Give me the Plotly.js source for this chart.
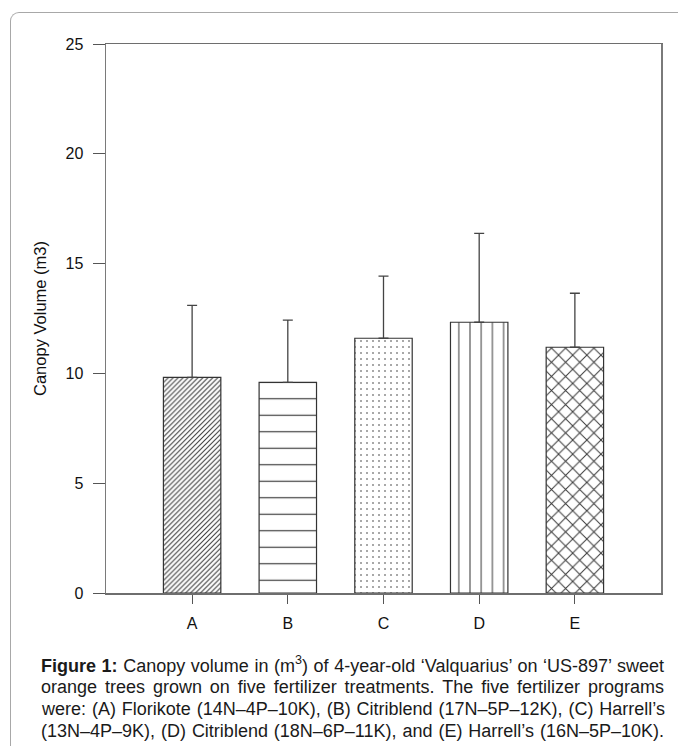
<!DOCTYPE html>
<html>
<head>
<meta charset="utf-8">
<script src="https://cdn.plot.ly/plotly-3.0.1.min.js"></script>
<style>
  html, body { margin: 0; padding: 0; background: #ffffff; overflow: hidden; }
  #chart { position: absolute; left: 0; top: 0; width: 678px; height: 746px; }
  #frame { position: absolute; left: 10px; top: 12px; width: 720px; height: 780px;
           border-top: 1.5px solid #a8a8a8; border-left: 1.5px solid #a8a8a8;
           border-top-left-radius: 9px; pointer-events: none; box-sizing: border-box; }
</style>
</head>
<body>
<div id="chart"></div>
<div id="frame"></div>
<script>
// ---- data ----
var categories = ['A', 'B', 'C', 'D', 'E'];
var canopyVolume = [9.82, 9.59, 11.60, 12.33, 11.19];
var errorUpper = [3.28, 2.84, 2.83, 4.05, 2.46];
var yTickValues = [0, 5, 10, 15, 20, 25];
var yAxisTitle = 'Canopy Volume (m3)';
var captionLines = [
  '<b>Figure 1:</b> Canopy volume in (m<sup>3</sup>) of 4-year-old \u2018Valquarius\u2019 on \u2018US-897\u2019 sweet',
  'orange trees grown on five fertilizer treatments. The five fertilizer programs',
  'were: (A) Florikote (14N\u20134P\u201310K), (B) Citriblend (17N\u20135P\u201312K), (C) Harrell\u2019s',
  '(13N\u20134P\u20139K), (D) Citriblend (18N\u20136P\u201311K), and (E) Harrell\u2019s (16N\u20135P\u201310K).'
];

// ---- styles ----
var patternShapes = ['/', '-', '.', '|', 'x'];
var patternSizes = [3.5, 16.5, 6, 11.2, 10];
var patternSolidity = [0.3, 0.07, 0.06, 0.09, 0.19];

var W = 678, H = 746;
var M = { l: 106, r: 17, t: 44, b: 153 };
var plotW = W - M.l - M.r, plotH = H - M.t - M.b;
function px2x(px) { return (px - M.l) / plotW; }
function py2y(py) { return (H - M.b - py) / plotH; }

var trace = {
  type: 'bar',
  x: categories,
  y: canopyVolume,
  width: 0.6,
  marker: {
    color: '#ffffff',
    line: { color: '#333333', width: 1.2 },
    pattern: {
      shape: patternShapes,
      size: patternSizes,
      solidity: patternSolidity,
      fgcolor: '#3a3a3a',
      bgcolor: '#ffffff',
      fillmode: 'replace'
    }
  },
  error_y: {
    type: 'data',
    symmetric: false,
    array: errorUpper,
    arrayminus: categories.map(function () { return 0; }),
    color: '#444444',
    thickness: 1.3,
    width: 5
  },
  hoverinfo: 'skip'
};

var captionY = [664, 687, 709, 731];
var annotations = captionLines.map(function (t, i) {
  return {
    text: t,
    xref: 'paper', yref: 'paper',
    x: px2x(40), y: py2y(captionY[i]),
    xanchor: 'left', yanchor: 'middle',
    align: 'left',
    showarrow: false,
    borderpad: 0,
    font: { family: 'Liberation Sans, Arial, sans-serif', size: 18, color: '#1a1a1a' }
  };
});

var axisFont = { family: 'Liberation Sans, Arial, sans-serif', size: 16, color: '#111111' };

var layout = {
  width: W, height: H,
  margin: M,
  paper_bgcolor: 'rgba(0,0,0,0)',
  plot_bgcolor: '#ffffff',
  showlegend: false,
  xaxis: {
    type: 'category',
    range: [-0.9, 4.9],
    showline: true, linecolor: '#6e6e6e', linewidth: 1.5, mirror: true,
    ticks: 'outside', ticklen: 9, tickcolor: '#555555', tickwidth: 1,
    showgrid: false, zeroline: false,
    tickfont: axisFont,
    ticklabelstandoff: 6
  },
  yaxis: {
    range: [0, 25],
    tickvals: yTickValues,
    showline: true, linecolor: '#7a7a7a', linewidth: 1.5, mirror: true,
    ticks: 'outside', ticklen: 12, tickcolor: '#555555', tickwidth: 1,
    showgrid: false, zeroline: false,
    tickfont: axisFont,
    ticklabelstandoff: 6,
    title: { text: yAxisTitle, font: { family: 'Liberation Sans, Arial, sans-serif', size: 16.5, color: '#111111' }, standoff: 14 }
  },
  annotations: annotations
};

Plotly.newPlot('chart', [trace], layout, { displayModeBar: false, staticPlot: true }).then(function (gd) {
  // justify caption lines to a common right edge
  var target = 663 - 40;
  var texts = gd.querySelectorAll('.annotation-text');
  texts.forEach(function (el) {
    var w = el.getComputedTextLength();
    var content = el.textContent;
    var spaces = (content.match(/ /g) || []).length;
    if (w < target && spaces > 0) {
      el.style.wordSpacing = ((target - w) / spaces) + 'px';
    } else if (w > target) {
      el.setAttribute('textLength', target);
      el.setAttribute('lengthAdjust', 'spacingAndGlyphs');
    }
  });
});
</script>
</body>
</html>
